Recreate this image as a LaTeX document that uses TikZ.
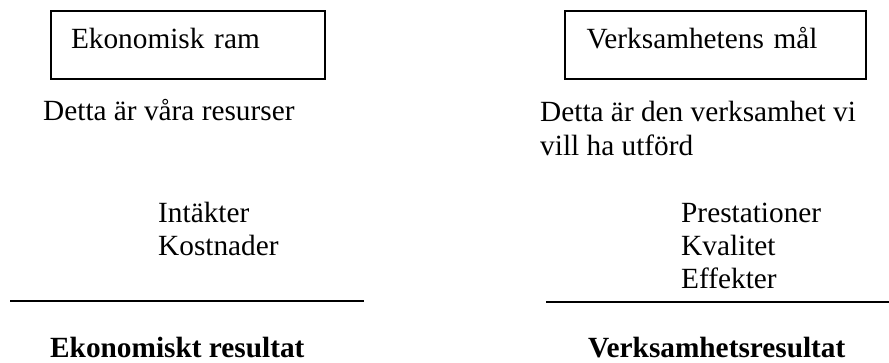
\documentclass[tikz,border=0pt]{standalone}
\usepackage{fontspec}
\setmainfont{Liberation Serif}
\begin{document}
\begin{tikzpicture}[x=1pt,y=-1pt,
  txt/.style={anchor=base west,inner sep=0pt,font=\fontsize{29.3}{33}\selectfont},
  btxt/.style={txt,font=\fontsize{29.3}{33}\selectfont\bfseries},
  framebox/.style={draw,line width=2pt,anchor=north west,align=left,inner ysep=0pt,
    text height=38pt,text depth=30pt,font=\fontsize{29.3}{33}\selectfont},
  rule/.style={line width=2pt}]
\useasboundingbox (0,0) rectangle (889,363);
% boxes
\node[framebox,inner xsep=20.5pt,text width=233.5pt] (ram) at (49.5,10) {Ekonomisk ram};
\node[framebox,inner xsep=22pt,text width=257pt] (mal) at (563.5,10) {Verksamhetens mål};
% descriptions
\node[txt] (res) at (43,121) {Detta är våra resurser};
\node[txt] (verk1) at (540,122) {Detta är den verksamhet vi};
\node[txt] (verk2) at (540,155.5) {vill ha utförd};
% lists
\node[txt] (int) at (158,223) {Intäkter};
\node[txt] (kost) at (158,256) {Kostnader};
\node[txt] (pres) at (681,223) {Prestationer};
\node[txt] (kval) at (681,256) {Kvalitet};
\node[txt] (eff) at (681,289) {Effekter};
% rules
\coordinate (l1) at (10,301.5);
\coordinate (l2) at (364,301.5);
\coordinate (r1) at (546,302);
\coordinate (r2) at (889,302);
\draw[rule] (l1) -- (l2);
\draw[rule] (r1) -- (r2);
% results
\node[btxt] (ekres) at (50,357) {Ekonomiskt resultat};
\node[btxt] (vres) at (588,357) {Verksamhetsresultat};
\end{tikzpicture}
\end{document}
